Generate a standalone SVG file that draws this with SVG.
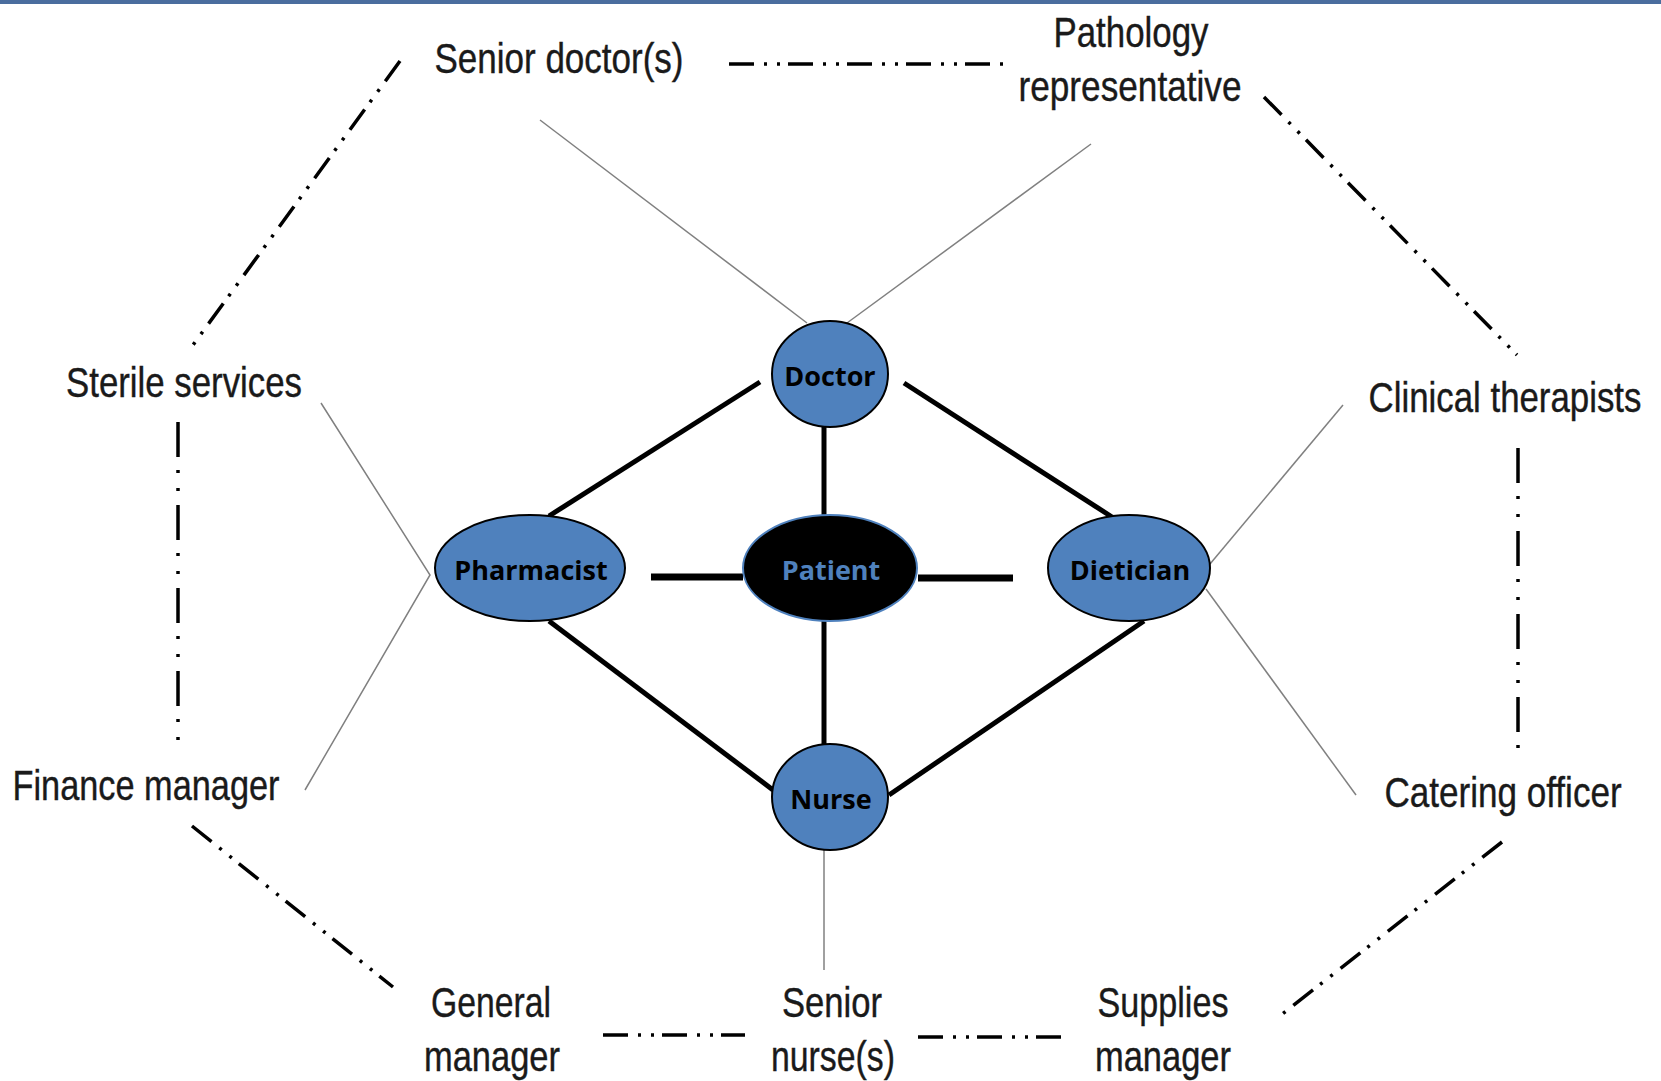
<svg xmlns="http://www.w3.org/2000/svg" width="1661" height="1081" viewBox="0 0 1661 1081">
<style>
.lbl{font-family:"Liberation Sans Narrow","Liberation Sans",Arial,sans-serif;font-size:43px;fill:#1a1a1a;stroke:#1a1a1a;stroke-width:0.4;text-anchor:middle}
.nt{font-family:"Open Sans","Noto Sans",sans-serif;font-weight:bold;font-size:27px;text-anchor:middle;fill:#000}
.node{fill:#4f81bd;stroke:#000;stroke-width:2}
.thick{stroke:#000;stroke-width:5;fill:none}
.thickh{stroke:#000;stroke-width:7;fill:none}
.thin{stroke:#808080;stroke-width:1.5;fill:none}
.dh{stroke:#000;stroke-width:3.5;fill:none;stroke-dasharray:25 10 3 10 3 8}
.dv{stroke:#000;stroke-width:3.5;fill:none;stroke-dasharray:35 13 3 15 3 14}
.dd{stroke:#000;stroke-width:3.5;fill:none;stroke-dasharray:25 10 3 10 3 9}
</style>
<rect x="0" y="0" width="1661" height="1081" fill="#fff"/>
<rect x="0" y="0" width="1661" height="4" fill="#4a6d9e"/>
<g id="connectors">
<line class="dh" x1="729" y1="64" x2="1006" y2="64"/>
<line class="dd" x1="1264" y1="97" x2="1517" y2="355"/>
<line class="dd" x1="400" y1="61" x2="193" y2="345"/>
<line class="dv" x1="178" y1="422" x2="178" y2="740"/>
<line class="dd" x1="192" y1="826" x2="393" y2="987"/>
<line class="dh" x1="603" y1="1035" x2="745" y2="1035"/>
<line class="dh" x1="918" y1="1037" x2="1061" y2="1037"/>
<line class="dd" x1="1502" y1="842" x2="1281" y2="1015"/>
<line class="dv" x1="1518" y1="448" x2="1518" y2="758"/>
<line class="thin" x1="540" y1="120" x2="807" y2="323"/>
<line class="thin" x1="1091" y1="144" x2="847" y2="323"/>
<polyline class="thin" points="321,403 430,575 305,790"/>
<line class="thin" x1="1210" y1="564" x2="1343" y2="405"/>
<line class="thin" x1="1206" y1="589" x2="1356" y2="795"/>
<line class="thin" x1="824" y1="850" x2="824" y2="970"/>
<line class="thick" x1="824" y1="427" x2="824" y2="515"/>
<line class="thick" x1="824" y1="621" x2="824" y2="745"/>
<line class="thickh" x1="651" y1="577" x2="743" y2="577"/>
<line class="thickh" x1="918" y1="578" x2="1013" y2="578"/>
<line class="thick" x1="760" y1="382" x2="549" y2="516"/>
<line class="thick" x1="904" y1="383" x2="1112" y2="517"/>
<line class="thick" x1="549" y1="621" x2="773" y2="790"/>
<line class="thick" x1="1144" y1="621" x2="889" y2="795"/>
</g>
<g id="doctor"><ellipse class="node" cx="830" cy="374" rx="58" ry="53"/><text class="nt" x="830" y="386">Doctor</text></g>
<g id="patient"><ellipse cx="830" cy="568" rx="87" ry="53" fill="#000" stroke="#4f81bd" stroke-width="2"/><text class="nt" x="831" y="580" style="fill:#4f81bd">Patient</text></g>
<g id="pharmacist"><ellipse class="node" cx="530" cy="568" rx="95" ry="53"/><text class="nt" x="531" y="580">Pharmacist</text></g>
<g id="dietician"><ellipse class="node" cx="1129" cy="568" rx="81" ry="53"/><text class="nt" x="1130" y="580">Dietician</text></g>
<g id="nurse"><ellipse class="node" cx="830" cy="797" rx="58" ry="53"/><text class="nt" x="831" y="809">Nurse</text></g>
<g id="senior-doctors"><text class="lbl" x="559" y="73" textLength="249" lengthAdjust="spacingAndGlyphs">Senior doctor(s)</text></g>
<g id="pathology"><text class="lbl" x="1131" y="47" textLength="155" lengthAdjust="spacingAndGlyphs">Pathology</text><text class="lbl" x="1130" y="101" textLength="223" lengthAdjust="spacingAndGlyphs">representative</text></g>
<g id="sterile"><text class="lbl" x="184" y="397" textLength="236" lengthAdjust="spacingAndGlyphs">Sterile services</text></g>
<g id="clinical"><text class="lbl" transform="translate(1505,412) scale(0.81,1)" x="0" y="0">Clinical therapists</text></g>
<g id="finance"><text class="lbl" x="146" y="800" textLength="267" lengthAdjust="spacingAndGlyphs">Finance manager</text></g>
<g id="catering"><text class="lbl" transform="translate(1503,807) scale(0.816,1)" x="0" y="0">Catering officer</text></g>
<g id="general"><text class="lbl" x="491" y="1017" textLength="120" lengthAdjust="spacingAndGlyphs">General</text><text class="lbl" x="492" y="1071" textLength="136" lengthAdjust="spacingAndGlyphs">manager</text></g>
<g id="senior-nurses"><text class="lbl" x="832" y="1017" textLength="100" lengthAdjust="spacingAndGlyphs">Senior</text><text class="lbl" x="833" y="1071" textLength="124" lengthAdjust="spacingAndGlyphs">nurse(s)</text></g>
<g id="supplies"><text class="lbl" x="1163" y="1017" textLength="131" lengthAdjust="spacingAndGlyphs">Supplies</text><text class="lbl" x="1163" y="1071" textLength="136" lengthAdjust="spacingAndGlyphs">manager</text></g>
</svg>
